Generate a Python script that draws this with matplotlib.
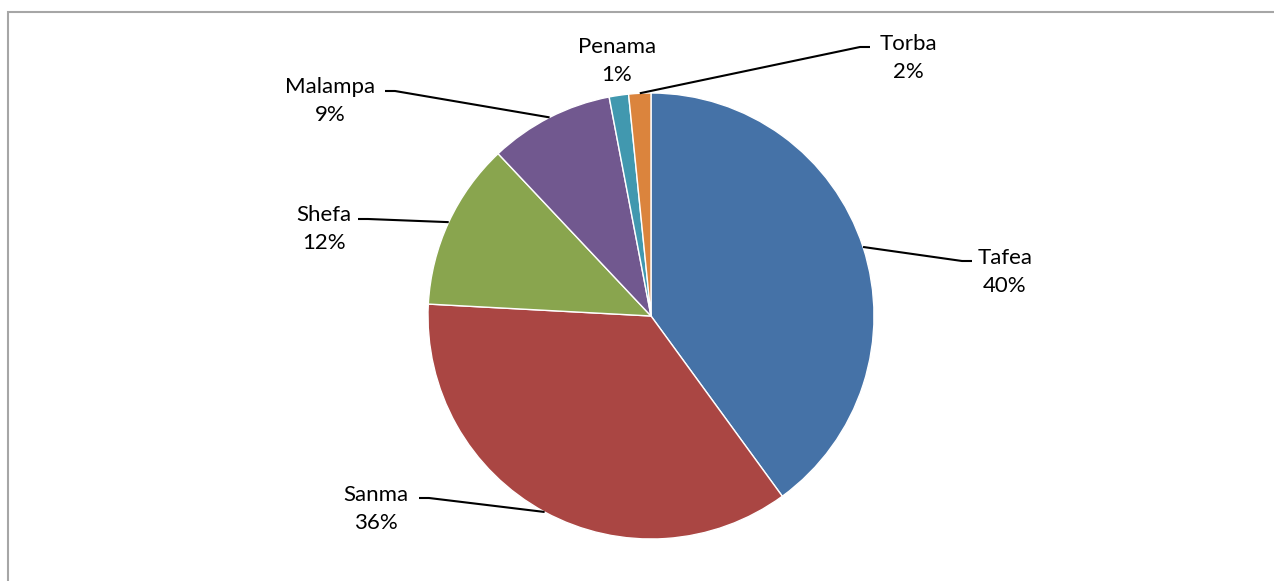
import numpy as np
import matplotlib
matplotlib.use('Agg')
from matplotlib import pyplot as plt
from matplotlib.patches import Rectangle

plt.rcParams['font.family'] = ['Lato', 'DejaVu Sans']

regions = ['Tafea', 'Sanma', 'Shefa', 'Malampa', 'Penama', 'Torba']
shares = [39.9, 35.8, 12.1, 9.0, 1.4, 1.6]
colors = ['#4572A7', '#AA4643', '#89A54E', '#71588F', '#4198AF', '#DB843D']

W, H = 1274, 581

# label block centres and leader line ends (pixels, y from top)
label_pos = [(1005, 272), (376, 509), (324, 229), (330, 101), (617, 61), (908, 58)]
leader_end = [(972, 261), (419, 498), (358, 219), (385, 91), None, (870, 47)]
leader_dir = [1, -1, -1, -1, 0, 1]

fig = plt.figure(figsize=(W / 100, H / 100), dpi=100)
ax = fig.add_axes([0, 0, 1, 1])

cx, cy, r = 651, H - 316, 223
wedges, _ = ax.pie(shares, colors=colors, startangle=90, counterclock=False,
                   radius=r, center=(cx, cy), frame=True,
                   wedgeprops=dict(edgecolor='white', linewidth=1))
ax.set_xlim(0, W)
ax.set_ylim(0, H)
ax.set_aspect('equal')
ax.axis('off')

total = sum(shares)
for i, w in enumerate(wedges):
    pct = int(round(shares[i] / total * 100))
    lx, ly = label_pos[i]
    ax.text(lx, H - ly, regions[i] + '\n' + str(pct) + '%', ha='center', va='center',
            fontsize=16, linespacing=1.45, color='black')
    if leader_end[i] is None:
        continue
    mid = np.deg2rad((w.theta1 + w.theta2) / 2)
    px, py = cx + r * np.cos(mid), cy + r * np.sin(mid)
    ex, ey = leader_end[i]
    kx = ex - 10 * leader_dir[i]
    ax.plot([px, kx, ex], [py, H - ey, H - ey], color='black', lw=1.5,
            solid_capstyle='butt')

fig.patches.append(Rectangle((8 / W, -0.05), 1.1, 1.05 - 12 / H, transform=fig.transFigure,
                             fill=False, edgecolor='#A6A6A6', lw=1.5))

fig.savefig('out.png', dpi=100, facecolor='white')
